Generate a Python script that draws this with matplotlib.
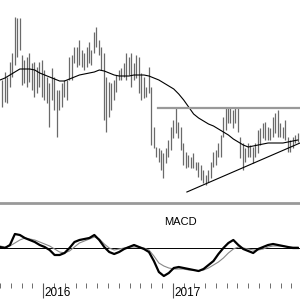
import pandas as pd
import numpy as np
import matplotlib
matplotlib.use('Agg')
import matplotlib.pyplot as plt
import matplotlib.dates as mdates
import matplotlib.transforms as mtransforms

plt.rcParams['font.family'] = ['Liberation Sans', 'DejaVu Sans']

# weekly high / low bars
weeks = pd.date_range('2015-09-07', periods=120, freq='7D')
high = [22.0, 22.8, 22.3, 23.8, 24.7, 28.3, 28.2, 28.2, 24.5, 24.0,
        24.3, 24.7, 23.7, 23.8, 23.3, 23.8, 24.0, 23.0, 22.3, 21.7,
        23.2, 22.3, 21.0, 21.0, 21.7, 22.0, 22.0, 24.3, 24.5, 25.3,
        25.3, 26.0, 25.0, 24.7, 25.3, 25.8, 25.0, 26.8, 27.3, 26.0,
        25.3, 24.7, 22.3, 21.8, 21.7, 22.0, 22.5, 23.0, 23.2, 23.7,
        24.7, 24.3, 24.7, 23.7, 24.5, 24.3, 22.7, 22.3, 21.3, 23.3,
        21.3, 17.3, 15.3, 15.2, 15.0, 14.7, 15.2, 16.0, 17.3, 18.0,
        19.3, 17.8, 17.3, 15.7, 14.8, 14.5, 14.3, 14.7, 13.8, 13.8,
        13.5, 13.0, 12.5, 13.0, 13.8, 14.8, 15.0, 15.7, 16.5, 18.3,
        19.3, 19.2, 19.2, 19.0, 19.3, 19.3, 16.3, 15.7, 15.2, 15.7,
        15.5, 15.3, 15.7, 17.0, 17.2, 17.7, 17.8, 17.3, 17.2, 18.3,
        18.7, 19.0, 17.7, 17.3, 18.0, 16.3, 16.0, 16.3, 16.5, 16.7]
low = [19.3, 19.8, 19.7, 21.3, 22.3, 23.5, 24.3, 25.0, 21.5, 21.7,
       21.3, 21.8, 21.0, 20.3, 20.7, 21.3, 20.3, 20.0, 19.7, 17.3,
       20.0, 19.0, 16.3, 19.0, 19.3, 20.3, 20.0, 22.0, 22.0, 23.7,
       23.3, 23.5, 23.3, 23.0, 23.3, 23.7, 23.5, 24.7, 25.3, 24.5,
       23.0, 18.0, 16.8, 18.3, 19.0, 20.0, 20.8, 22.0, 22.0, 22.3,
       22.0, 22.5, 21.3, 22.0, 22.2, 20.7, 20.0, 20.2, 20.3, 20.7,
       15.5, 15.2, 14.3, 13.8, 13.0, 12.2, 13.7, 14.3, 15.0, 16.2,
       16.7, 16.2, 15.0, 13.5, 13.2, 13.3, 13.2, 13.2, 13.0, 12.3,
       12.0, 11.7, 11.5, 11.8, 12.2, 13.3, 13.5, 14.3, 14.3, 16.3,
       17.0, 17.7, 17.7, 17.2, 17.7, 16.8, 14.2, 13.0, 13.8, 14.3,
       14.3, 13.7, 14.3, 14.7, 15.5, 16.2, 16.0, 16.0, 16.0, 16.3,
       16.7, 16.3, 16.3, 16.2, 16.0, 14.8, 14.8, 15.2, 15.7, 15.8]

# moving average and MACD, read every two weeks
biweeks = pd.date_range('2015-09-01', periods=61, freq='14D')
ma = [22.0, 22.2, 22.5, 22.8, 23.1, 23.1, 23.1, 23.0, 22.7, 22.5,
      22.3, 22.1, 21.9, 21.9, 22.1, 22.3, 22.5, 22.6, 22.7, 22.8,
      23.0, 22.9, 22.7, 22.5, 22.4, 22.4, 22.4, 22.5, 22.5, 22.5,
      22.4, 22.2, 22.0, 21.7, 21.4, 21.1, 20.6, 20.0, 19.3, 18.6,
      18.2, 17.9, 17.6, 17.4, 17.1, 16.8, 16.5, 16.1, 15.8, 15.5,
      15.3, 15.4, 15.5, 15.6, 15.7, 15.7, 15.7, 15.7, 15.8, 15.9, 16.0]
macd = [0.1, 0.0, 0.3, 1.4, 1.3, 1.0, 0.8, 0.6, 0.3, 0.1,
        -0.2, -0.7, -0.7, -0.5, 0.0, 0.6, 0.8, 0.9, 1.0, 1.3,
        0.8, 0.1, -0.4, -0.6, -0.4, -0.1, 0.1, 0.3, 0.1, -0.1,
        -0.4, -1.3, -2.4, -2.8, -2.5, -2.0, -1.9, -2.0, -2.1, -2.2,
        -2.3, -2.1, -1.7, -1.3, -0.6, 0.0, 0.5, 0.8, 0.3, -0.1,
        -0.3, -0.5, -0.1, 0.1, 0.3, 0.4, 0.3, 0.2, 0.1, 0.0, 0.0]
signal = [0.2, 0.1, 0.2, 0.5, 0.8, 1.0, 0.9, 0.8, 0.6, 0.4,
          0.2, -0.1, -0.4, -0.5, -0.3, 0.1, 0.5, 0.7, 0.9, 1.1,
          0.9, 0.4, 0.0, -0.2, -0.1, 0.0, 0.1, 0.1, 0.1, 0.0,
          -0.2, -0.8, -1.5, -1.8, -2.0, -2.1, -2.1, -2.1, -2.2, -2.2,
          -2.3, -2.2, -2.0, -1.7, -1.4, -1.0, -0.5, -0.1, 0.1, 0.0,
          -0.1, -0.2, -0.2, -0.1, 0.1, 0.2, 0.2, 0.2, 0.1, 0.1, 0.1]

# drawn pattern lines (resistance + rising support)
resist_dates = ['2016-11-19', '2017-12-25']
resist_price = [19.2, 19.2]
support_dates = ['2017-02-09', '2017-12-25']
support_price = [10.8, 15.7]

years = ['2016', '2017']

fig = plt.figure(figsize=(3, 3), dpi=100)
ax1 = fig.add_axes([0, 98 / 300, 1, 202 / 300])
ax2 = fig.add_axes([0, 17 / 300, 1, 80 / 300])
x0, x1 = pd.Timestamp('2015-09-01'), pd.Timestamp('2017-12-25')

# price panel
ax1.vlines(weeks, low, high, color='#6a6a6a', lw=0.9)
ax1.plot(biweeks, ma, color='black', lw=0.8)
ax1.plot(pd.to_datetime(resist_dates), resist_price, color='#999999', lw=1.6)
ax1.plot(pd.to_datetime(support_dates), support_price, color='black', lw=0.8)
ax1.set_xlim(x0, x1)
ax1.set_ylim(9.8, 30)
ax1.axis('off')

# MACD panel
ax2.axhline(0, color='black', lw=0.7)
ax2.plot(biweeks, signal, color='#888888', lw=0.8)
ax2.plot(biweeks, macd, color='black', lw=1.6)
ax2.set_xlim(x0, x1)
ax2.set_ylim(-3.5, 4.5)
ax2.text(0.6, 0.76, 'MACD', transform=ax2.transAxes, ha='center', va='center', fontsize=8)
for s in ['left', 'right', 'bottom']:
    ax2.spines[s].set_visible(False)
ax2.spines['top'].set_color('#999999')
ax2.spines['top'].set_linewidth(2)
ax2.set_yticks([])
ax2.xaxis.set_major_locator(mdates.YearLocator())
ax2.xaxis.set_minor_locator(mdates.MonthLocator())
ax2.tick_params(axis='x', which='major', length=11, color='#555555', labelbottom=False)
ax2.tick_params(axis='x', which='minor', length=3.5, color='#555555')

trans = mtransforms.blended_transform_factory(ax2.transData, ax2.transAxes)
for y in years:
    ax2.text(pd.Timestamp(y + '-01-05'), -0.12, y, transform=trans,
             ha='left', va='center', fontsize=8.5)

fig.savefig('out.png', dpi=100)
